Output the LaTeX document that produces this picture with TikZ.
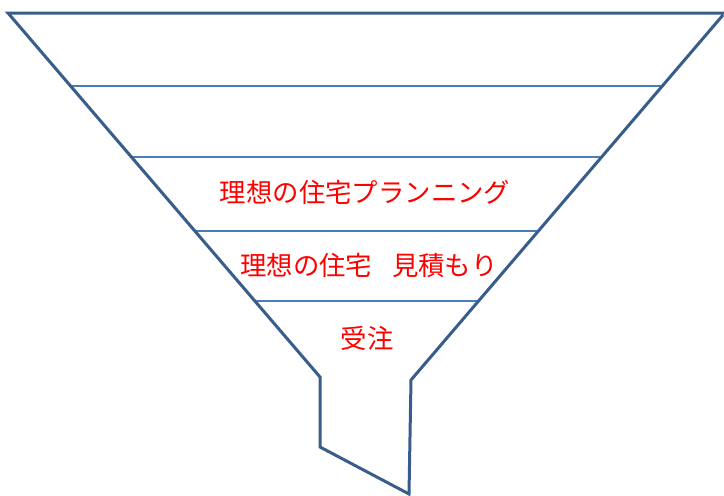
\documentclass[tikz,border=0pt]{standalone}
\usepackage{fontspec}
\newfontfamily\cjk{Noto Sans CJK JP}
\definecolor{funnelblue}{RGB}{56,93,138}
\definecolor{sepblue}{RGB}{74,126,187}
\definecolor{txtred}{RGB}{255,0,0}
\tikzset{
  outline/.style={draw=funnelblue, line width=3pt, line join=miter},
  sepline/.style={draw=sepblue, line width=1.3pt},
  label/.style={text=txtred, font=\cjk\fontsize{26.4}{30}\selectfont, inner sep=0pt}
}
\begin{document}
\begin{tikzpicture}[x=1pt,y=-1pt]
\useasboundingbox (0,0) rectangle (724,496);
\coordinate (tl) at (8,13);
\coordinate (tr) at (723,15);
\coordinate (tre) at (726,13);
\coordinate (nl) at (320,377);
\coordinate (nr) at (411,380);
\coordinate (bl) at (320,447);
\coordinate (bt) at (409,494);
% separators
\coordinate (s1l) at (71,86);  \coordinate (s1r) at (664,86);
\coordinate (s2l) at (132,157); \coordinate (s2r) at (603,157);
\coordinate (s3l) at (196,231); \coordinate (s3r) at (539,231);
\coordinate (s4l) at (256,301); \coordinate (s4r) at (479,301);
\draw[sepline] (s1l) -- (s1r);
\draw[sepline] (s2l) -- (s2r);
\draw[sepline] (s3l) -- (s3r);
\draw[sepline] (s4l) -- (s4r);
\draw[outline] (tre) -- (tl) -- (nl) -- (bl) -- (bt) -- (nr) -- (tr);
\node[label] (t1) at (365,192) {理想の住宅プランニング};
\node[label] (t2) at (369,265) {理想の住宅\hspace{0.75em}見積もり};
\node[label] (t3) at (367,338) {受注};
\end{tikzpicture}
\end{document}
